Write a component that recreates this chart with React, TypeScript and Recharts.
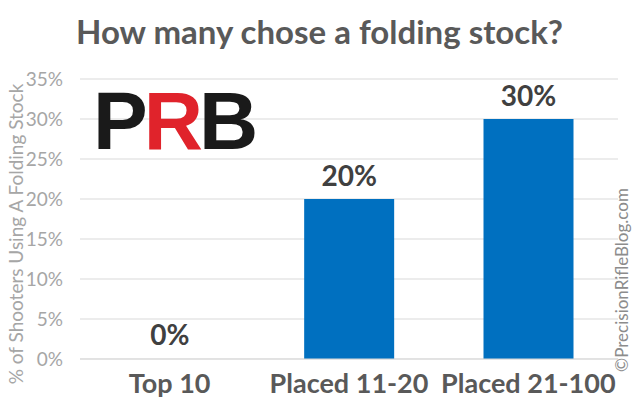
import React from 'react';
import { BarChart, Bar, XAxis, YAxis, CartesianGrid, LabelList, Cell } from 'recharts';

const categories = ['Top 10', 'Placed 11-20', 'Placed 21-100'];
const shares = [0, 20, 30];
const yTicks = [0, 5, 10, 15, 20, 25, 30, 35];

const data = categories.map((name, i) => ({ name, value: shares[i] }));

const font = 'Lato, "Open Sans", "Liberation Sans", sans-serif';
const barColor = '#0070c0';

const App: React.FC = () => {
    return (
        <div style={{ position: 'absolute', left: 0, top: 0, width: 639, height: 410, background: '#fff', fontFamily: font }}>
            <div style={{ position: 'absolute', left: 0, top: 11, width: 639, textAlign: 'center', fontSize: 33, lineHeight: '40px', fontWeight: 700, color: '#595959' }}>
                How many chose a folding stock?
            </div>
            <BarChart width={639} height={410} data={data} margin={{ top: 79, right: 21, left: 20, bottom: 11 }} barCategoryGap="25%">
                <CartesianGrid vertical={false} stroke="#d9d9d9" />
                <XAxis
                    dataKey="name"
                    height={40}
                    interval={0}
                    axisLine={{ stroke: '#d9d9d9' }}
                    tickLine={false}
                    tick={{ fontSize: 27, fontWeight: 700, fill: '#595959', fontFamily: font }}
                    tickMargin={9}
                />
                <YAxis
                    width={60}
                    domain={[0, 35]}
                    ticks={yTicks}
                    axisLine={false}
                    tickLine={false}
                    tickFormatter={(v) => `${v}%`}
                    tick={{ fontSize: 19, fill: '#a6a6a6', fontFamily: font }}
                    tickMargin={11}
                />
                <Bar dataKey="value" fill={barColor} minPointSize={1} isAnimationActive={false}>
                    {data.map((d) => (
                        <Cell key={d.name} fill={d.value === 0 ? 'transparent' : barColor} />
                    ))}
                    <LabelList
                        dataKey="value"
                        position="top"
                        offset={13}
                        formatter={(v: any) => `${v}%`}
                        style={{ fontSize: 28, fontWeight: 700, fill: '#404040', fontFamily: font }}
                    />
                </Bar>
            </BarChart>
            <div style={{ position: 'absolute', left: 93, top: 80, fontFamily: '"Liberation Sans", Arial, sans-serif', fontWeight: 900, fontSize: 82, letterSpacing: -4, lineHeight: '82px' }}>
                <span style={{ color: '#1a1a1a' }}>P</span>
                <span style={{ color: '#e0232b' }}>R</span>
                <span style={{ color: '#1a1a1a' }}>B</span>
            </div>
            <div style={{ position: 'absolute', left: 15, top: 234, transform: 'translate(-50%, -50%) rotate(-90deg)', whiteSpace: 'nowrap', fontSize: 19, color: '#a6a6a6' }}>
                % of Shooters Using A Folding Stock
            </div>
            <div style={{ position: 'absolute', left: 621, top: 280, transform: 'translate(-50%, -50%) rotate(-90deg)', whiteSpace: 'nowrap', fontSize: 17, color: '#8c8c8c' }}>
                ©PrecisionRifleBlog.com
            </div>
        </div>
    );
};

export default App;
